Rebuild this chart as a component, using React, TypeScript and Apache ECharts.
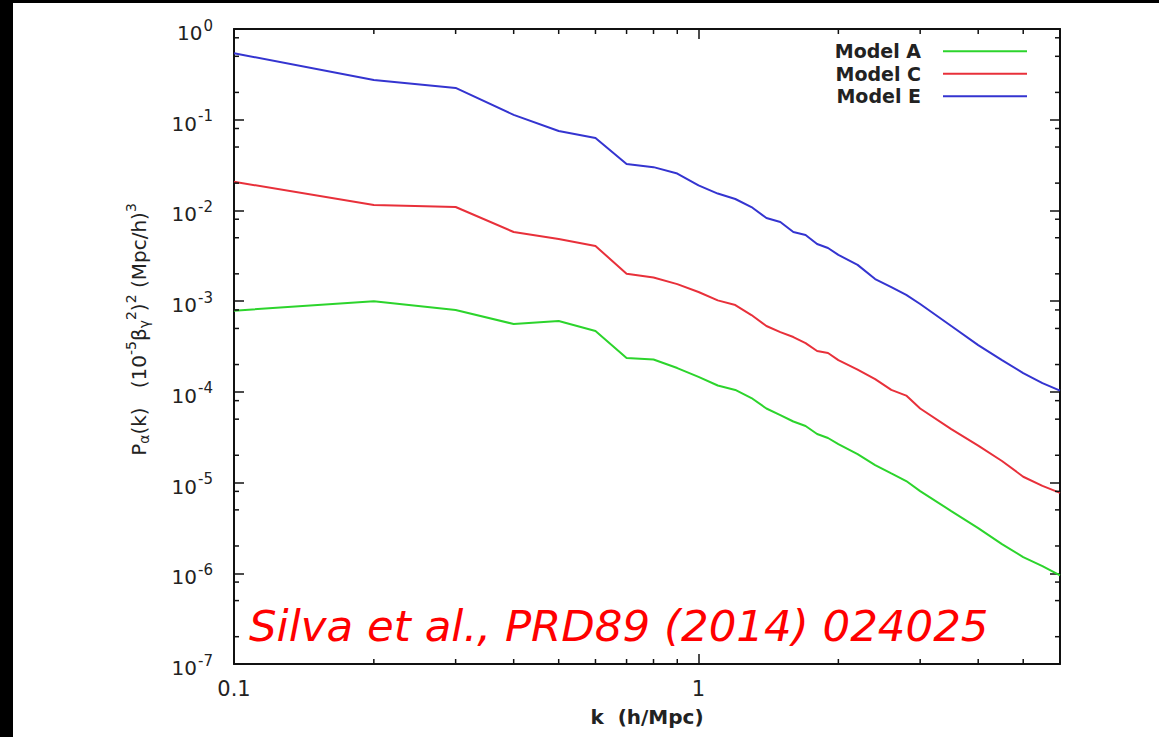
import React, { useEffect, useRef } from "react";
import * as echarts from "echarts";

const kValues = [
  0.1, 0.2, 0.3, 0.4, 0.5, 0.6, 0.7, 0.8, 0.9, 1.0,
  1.1, 1.2, 1.3, 1.4, 1.5, 1.6, 1.7, 1.8, 1.9, 2.0,
  2.2, 2.4, 2.6, 2.8, 3.0, 3.5, 4.0, 4.5, 5.0, 5.5, 6.0,
];

const modelA = [
  7.84e-4, 1.0e-3, 7.98e-4, 5.6e-4, 6.04e-4, 4.68e-4, 2.36e-4, 2.27e-4, 1.83e-4, 1.46e-4,
  1.175e-4, 1.05e-4, 8.55e-5, 6.55e-5, 5.55e-5, 4.71e-5, 4.2e-5, 3.43e-5, 3.1e-5, 2.66e-5,
  2.06e-5, 1.56e-5, 1.26e-5, 1.04e-5, 8.06e-6, 4.85e-6, 3.15e-6, 2.1e-6, 1.51e-6, 1.2e-6, 9.5e-7,
];

const modelC = [
  2.07e-2, 1.15e-2, 1.09e-2, 5.78e-3, 4.84e-3, 4.05e-3, 2.01e-3, 1.82e-3, 1.54e-3, 1.26e-3,
  1.02e-3, 9.06e-4, 7.03e-4, 5.32e-4, 4.56e-4, 4.02e-4, 3.45e-4, 2.82e-4, 2.68e-4, 2.24e-4,
  1.76e-4, 1.38e-4, 1.05e-4, 9.1e-5, 6.55e-5, 3.89e-5, 2.56e-5, 1.73e-5, 1.16e-5, 9.2e-6, 7.7e-6,
];

const modelE = [
  0.54, 0.274, 0.224, 0.113, 0.075, 0.0628, 0.0325, 0.03, 0.0255, 0.0189,
  0.01535, 0.01336, 0.0109, 0.00824, 0.00745, 0.00578, 0.00536, 0.00426, 0.00385, 0.00323,
  0.00251, 0.00175, 0.00143, 0.00117, 0.00093, 0.000532, 0.000328, 0.000224, 0.000161, 0.000125, 0.000103,
];

const seriesNames = ["Model A", "Model C", "Model E"];
const seriesColors = ["#2cd42c", "#e8303a", "#3434d0"];

const xMin = 0.1;
const xMax = 6;
const yMin = 1e-7;
const yMax = 1;

const xMinorTicks = [0.2, 0.3, 0.4, 0.5, 0.6, 0.7, 0.8, 0.9, 2, 3, 4, 5];
const yMinorTicks = [
  2e-7, 5e-7, 8e-7, 2e-6, 5e-6, 8e-6, 2e-5, 5e-5, 8e-5, 2e-4, 5e-4, 8e-4,
  2e-3, 5e-3, 8e-3, 2e-2, 5e-2, 8e-2, 0.2, 0.5, 0.8,
];

const xLabelTexts = { "-1": "0.1", "0": "1" };

const citation = "Silva et al., PRD89 (2014) 024025";

const FONT = '"DejaVu Sans", Verdana, sans-serif';
const AXIS_COLOR = "#111";
const TEXT_COLOR = "#222";

function pair(xs: number[], ys: number[]) {
  return xs.map((x, i) => [x, ys[i]]);
}

export default function App() {
  const ref = useRef<HTMLDivElement>(null);

  useEffect(() => {
    if (!ref.current) return;
    const chart = echarts.init(ref.current, undefined, { renderer: "svg" });

    const tickLine = { show: true, inside: true, length: 10, lineStyle: { color: AXIS_COLOR, width: 1.5 } };
    const axisLine = { show: true, lineStyle: { color: AXIS_COLOR, width: 2 } };

    const lineSeries = [modelA, modelC, modelE].map((vals, i) => ({
      name: seriesNames[i],
      type: "line",
      data: pair(kValues, vals),
      showSymbol: false,
      symbol: "none",
      lineStyle: { color: seriesColors[i], width: 2 },
      itemStyle: { color: seriesColors[i] },
      xAxisIndex: 0,
      yAxisIndex: 0,
      z: 3,
    }));

    const option: any = {
      animation: false,
      backgroundColor: "#ffffff",
      grid: { left: 234, right: 99, top: 29, bottom: 73, containLabel: false, outerBoundsMode: "none" },
      legend: {
        data: seriesNames,
        orient: "vertical",
        right: 132,
        top: 40,
        padding: 0,
        align: "right",
        icon: "rect",
        itemWidth: 84,
        itemHeight: 2,
        itemGap: 0,
        textStyle: {
          fontFamily: FONT,
          fontSize: 19,
          fontWeight: "bold",
          color: TEXT_COLOR,
          lineHeight: 22.5,
          padding: [0, 17, 0, 0],
        },
      },
      xAxis: [
        {
          type: "log",
          logBase: 10,
          min: xMin,
          max: xMax,
          position: "bottom",
          axisLine,
          axisTick: tickLine,
          splitLine: { show: false },
          minorTick: { show: false },
          axisLabel: {
            margin: 14,
            showMaxLabel: false,
            fontFamily: FONT,
            fontSize: 21,
            color: TEXT_COLOR,
            formatter: (v: number) => {
              const e = Math.log10(v);
              const r = Math.round(e);
              if (Math.abs(e - r) > 1e-6) return "";
              return (xLabelTexts as any)[String(r)] ?? "";
            },
          },
          name: "k  (h/Mpc)",
          nameLocation: "middle",
          nameGap: 43,
          nameTextStyle: { fontFamily: FONT, fontSize: 20, fontWeight: "bold", color: TEXT_COLOR },
        },
        {
          type: "log",
          logBase: 10,
          min: xMin,
          max: xMax,
          position: "top",
          axisLine,
          axisTick: tickLine,
          axisLabel: { show: false },
          splitLine: { show: false },
        },
      ],
      yAxis: [
        {
          type: "log",
          logBase: 10,
          min: yMin,
          max: yMax,
          position: "left",
          axisLine,
          axisTick: tickLine,
          splitLine: { show: false },
          axisLabel: {
            margin: 21,
            formatter: (v: number) => {
              const e = Math.round(Math.log10(v));
              return `{b|10}{s|${e}}`;
            },
            rich: {
              b: { fontFamily: FONT, fontSize: 20, lineHeight: 20, color: TEXT_COLOR, padding: [8, 0, 0, 0] },
              s: { fontFamily: FONT, fontSize: 15, lineHeight: 15, color: TEXT_COLOR, padding: [3, 0, 10, 1] },
            },
          },
          name:
            "{t|P}{sub|α}{t|(k)   (10}{sup|-5}{t|β}{sub|γ}{sup|2}{t|)}{sup|2}{t| (Mpc/h)}{sup|3}",
          nameLocation: "middle",
          nameGap: 86,
          nameRotate: 90,
          nameTextStyle: {
            padding: [0, 0, 0, 34],
            rich: {
              t: { fontFamily: FONT, fontSize: 20, lineHeight: 20, color: TEXT_COLOR, padding: [6, 0, 4, 0] },
              sup: { fontFamily: FONT, fontSize: 14, lineHeight: 14, color: TEXT_COLOR, padding: [1, 0, 15, 0] },
              sub: { fontFamily: FONT, fontSize: 14, lineHeight: 14, color: TEXT_COLOR, padding: [14, 0, 2, 0] },
            },
          },
        },
        {
          type: "log",
          logBase: 10,
          min: yMin,
          max: yMax,
          position: "right",
          axisLine,
          axisTick: tickLine,
          axisLabel: { show: false },
          splitLine: { show: false },
        },
      ],
      series: [
        ...lineSeries,
        {
          name: "xMinor",
          type: "custom",
          xAxisIndex: 0,
          yAxisIndex: 0,
          silent: true,
          z: 5,
          data: xMinorTicks.map((v) => [v, yMin]),
          renderItem: (_p: any, api: any) => {
            const v = api.value(0);
            const b = api.coord([v, yMin]);
            const t = api.coord([v, yMax]);
            const st = { stroke: AXIS_COLOR, lineWidth: 1.5 };
            return {
              type: "group",
              children: [
                { type: "line", shape: { x1: b[0], y1: b[1], x2: b[0], y2: b[1] - 5 }, style: st },
                { type: "line", shape: { x1: t[0], y1: t[1], x2: t[0], y2: t[1] + 5 }, style: st },
              ],
            };
          },
        },
        {
          name: "yMinor",
          type: "custom",
          xAxisIndex: 0,
          yAxisIndex: 0,
          silent: true,
          z: 5,
          data: yMinorTicks.map((v) => [xMin, v]),
          renderItem: (_p: any, api: any) => {
            const v = api.value(1);
            const l = api.coord([xMin, v]);
            const r = api.coord([xMax, v]);
            const st = { stroke: AXIS_COLOR, lineWidth: 1.5 };
            return {
              type: "group",
              children: [
                { type: "line", shape: { x1: l[0], y1: l[1], x2: l[0] + 5, y2: l[1] }, style: st },
                { type: "line", shape: { x1: r[0], y1: r[1], x2: r[0] - 5, y2: r[1] }, style: st },
              ],
            };
          },
        },
      ],
      graphic: [
        { type: "rect", shape: { x: 0, y: 0, width: 1159, height: 3 }, style: { fill: "#000" }, z: 100 },
        { type: "rect", shape: { x: 0, y: 0, width: 13, height: 737 }, style: { fill: "#000" }, z: 100 },
        {
          type: "text",
          x: 249,
          y: 626,
          z: 50,
          style: {
            text: citation,
            fill: "#ff0000",
            fontFamily: FONT,
            fontStyle: "italic",
            fontSize: 43.5,
            verticalAlign: "middle",
            align: "left",
          },
        },
      ],
    };

    chart.setOption(option);
    return () => chart.dispose();
  }, []);

  return (
    <div
      ref={ref}
      style={{ position: "absolute", left: 0, top: 0, width: 1159, height: 737, background: "#fff" }}
    />
  );
}
